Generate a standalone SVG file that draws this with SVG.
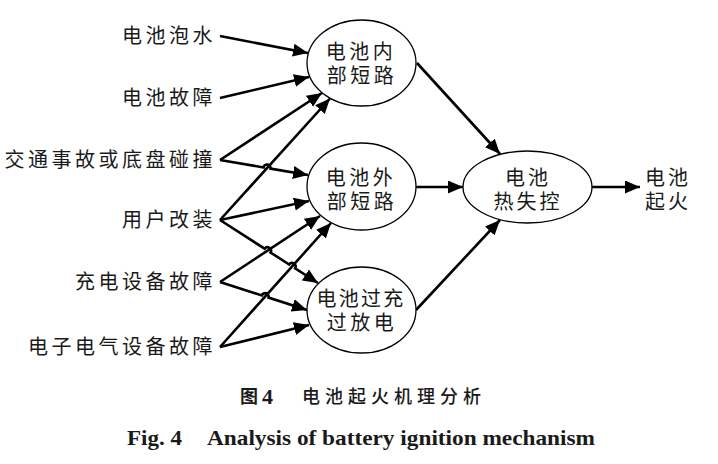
<svg xmlns="http://www.w3.org/2000/svg" width="718" height="464" viewBox="0 0 718 464">
<defs>
<marker id="ah" markerUnits="userSpaceOnUse" markerWidth="16" markerHeight="14" refX="15" refY="6.5" orient="auto">
<path d="M0,0 L15,6.5 L0,13 z" fill="#000"/>
</marker>
<style>
.cj{font-family:"Noto Sans CJK SC","Noto Sans",sans-serif;font-size:20px;fill:#1a1a1a;letter-spacing:3.5px}
.lbl{text-anchor:end}
.mid{text-anchor:middle}
.el{fill:#fff;stroke:#000;stroke-width:1.3}
.ln{fill:none;stroke:#000;stroke-width:2.6;marker-end:url(#ah)}
.cap{font-family:"Noto Sans CJK SC",sans-serif;font-size:18px;fill:#1a1a1a}
.en{font-family:"Liberation Serif",serif;font-weight:bold;font-size:22px;fill:#1a1a1a}
</style>
</defs>
<rect width="718" height="464" fill="#fff"/>

<g id="connectors">
<path class="ln" d="M220,36 L308,53"/>
<path class="ln" d="M220,98 L309,77"/>
<path class="ln" d="M220,160 L322,93"/>
<path class="ln" d="M220,160 L263.61,167.43 A3.5,3.5 0 0 1 270.51,168.61 L308,175"/>
<path class="ln" d="M220,220 L330,98.5"/>
<path class="ln" d="M220,220 L309,201"/>
<path class="ln" d="M220,220 L264.65,248.70 A3.5,3.5 0 0 1 270.53,252.48 L289.22,264.50 A3.5,3.5 0 0 1 295.10,268.28 L318,283"/>
<path class="ln" d="M220,282 L320,216"/>
<path class="ln" d="M220,282 L261.84,295.47 A3.5,3.5 0 0 1 268.50,297.61 L307,310"/>
<path class="ln" d="M220,347 L331,223"/>
<path class="ln" d="M220,347 L309,325"/>
<path class="ln" d="M417,63 L500,154"/>
<path class="ln" d="M416,187 L463,187"/>
<path class="ln" d="M416,310 L500,220"/>
<path class="ln" d="M592,187 L640,187"/>
</g>

<g id="src1"><text class="cj lbl" x="216" y="43">电池泡水</text></g>
<g id="src2"><text class="cj lbl" x="216" y="105">电池故障</text></g>
<g id="src3"><text class="cj lbl" x="216" y="167">交通事故或底盘碰撞</text></g>
<g id="src4"><text class="cj lbl" x="216" y="227">用户改装</text></g>
<g id="src5"><text class="cj lbl" x="216" y="289">充电设备故障</text></g>
<g id="src6"><text class="cj lbl" x="216" y="354">电子电气设备故障</text></g>

<g id="n-internal">
<ellipse class="el" cx="361.5" cy="63" rx="54.5" ry="43"/>
<text class="cj mid" x="361" y="59">电池内</text>
<text class="cj mid" x="362" y="83">部短路</text>
</g>
<g id="n-external">
<ellipse class="el" cx="361.5" cy="186.5" rx="54.5" ry="43.5"/>
<text class="cj mid" x="361" y="185">电池外</text>
<text class="cj mid" x="362" y="209">部短路</text>
</g>
<g id="n-over">
<ellipse class="el" cx="361.5" cy="310" rx="54.5" ry="43"/>
<text class="cj mid" x="361" y="306" style="letter-spacing:2.3px">电池过充</text>
<text class="cj mid" x="362" y="330">过放电</text>
</g>
<g id="n-thermal">
<ellipse class="el" cx="527.5" cy="187" rx="64.5" ry="36"/>
<text class="cj mid" x="528" y="185" style="letter-spacing:3px">电池</text>
<text class="cj mid" x="528" y="209" style="letter-spacing:3px">热失控</text>
</g>
<g id="n-fire">
<text class="cj mid" x="668" y="185" style="letter-spacing:3px">电池</text>
<text class="cj mid" x="668" y="209" style="letter-spacing:3px">起火</text>
</g>

<g id="caption">
<text class="cap" x="240" y="403" font-weight="bold">图</text>
<text class="en" x="262" y="404">4</text>
<text class="cap" x="302" y="403" font-weight="500" style="letter-spacing:5px">电池起火机理分析</text>
<text class="en" x="127" y="445" textLength="55" lengthAdjust="spacingAndGlyphs">Fig. 4</text>
<text class="en" x="207" y="445" textLength="388" lengthAdjust="spacingAndGlyphs">Analysis of battery ignition mechanism</text>
</g>
</svg>
